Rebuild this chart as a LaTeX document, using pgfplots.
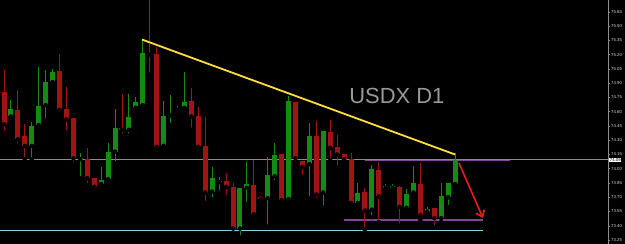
\documentclass[border=0pt]{standalone}
\usepackage{pgfplots}
\pgfplotsset{compat=1.18}
\usepackage{pgfplotstable}
\usepackage{fontspec}
\setmainfont{Liberation Sans}
\usetikzlibrary{arrows.meta}
\definecolor{bull}{RGB}{20,140,20}
\definecolor{bear}{RGB}{160,20,20}
\definecolor{trend}{RGB}{255,222,60}
\definecolor{purp}{RGB}{130,70,150}
\definecolor{cyanl}{RGB}{120,215,225}
\definecolor{pline}{RGB}{140,140,140}
\definecolor{arr}{RGB}{230,30,30}

\pgfplotstableread{
i o h l c
2 74.55 74.72 74.51 74.63
5 74.24 74.49 74.10 74.45
6 74.46 75.07 74.43 74.66
7 74.67 75.04 74.51 74.91
8 74.91 75.05 74.91 75.02
12 74.10 74.17 73.90 74.11
15 73.84 74.02 73.80 73.88
16 73.89 74.27 73.88 74.18
17 74.18 74.63 74.06 74.43
19 74.41 74.79 74.35 74.54
20 74.64 74.75 74.64 74.70
21 74.67 75.36 74.67 75.22
24 74.24 74.71 74.24 74.55
25 74.56 74.78 74.46 74.57
26 74.62 74.66 74.61 74.63
27 74.64 75.02 74.64 74.70
31 73.76 74.02 73.68 73.90
32 73.86 73.91 73.75 73.87
35 73.37 73.80 73.28 73.80
36 73.80 74.07 73.63 73.84
39 73.69 74.12 73.39 73.93
40 73.92 74.27 73.86 74.14
42 73.68 74.77 73.68 74.71
45 74.05 74.48 73.69 74.34
47 73.75 74.40 73.59 74.40
52 73.64 73.85 73.60 73.75
54 73.57 74.04 73.49 74.00
56 73.80 73.84 73.78 73.82
57 73.80 73.84 73.78 73.82
59 73.59 73.79 73.55 73.73
60 73.75 74.03 73.72 73.85
62 73.55 73.60 73.53 73.58
64 73.48 73.85 73.44 73.71
65 73.70 73.85 73.60 73.85
66 73.84 74.17 73.81 74.09
}\upcandles

\pgfplotstableread{
i o h l c
1 74.81 75.04 74.38 74.47
3 74.62 74.83 74.25 74.31
4 74.34 74.47 74.10 74.24
9 75.03 75.21 74.57 74.62
10 74.63 74.86 74.38 74.52
11 74.53 74.53 74.05 74.11
13 74.10 74.22 73.83 73.90
14 73.90 73.90 73.77 73.81
18 74.43 74.79 74.35 74.41
22 75.21 75.78 74.99 75.20
23 75.21 75.28 74.20 74.23
28 74.71 74.85 74.41 74.55
29 74.55 74.65 74.23 74.23
30 74.24 74.54 73.64 73.75
33 73.87 73.96 73.70 73.81
34 73.81 73.85 73.32 73.37
37 73.83 74.09 73.49 73.52
38 73.70 73.71 73.63 73.68
41 74.15 74.15 73.63 73.67
43 74.70 74.70 74.06 74.11
44 74.08 74.08 73.91 74.02
46 74.34 74.50 73.67 73.73
48 74.39 74.51 74.09 74.22
49 74.23 74.35 74.01 74.15
50 74.15 74.15 74.09 74.10
51 74.10 74.17 73.62 73.64
53 73.76 73.80 73.36 73.56
55 73.99 74.07 73.44 73.71
58 73.81 73.82 73.40 73.60
61 73.84 74.06 73.46 73.51
63 73.59 73.59 73.38 73.48
}\downcandles

\begin{document}
\begin{tikzpicture}
\useasboundingbox (0,0) rectangle (625bp,244bp);
\fill[black] (0,0) rectangle (625bp,244bp);
\begin{axis}[
  at={(0,0)}, anchor=south west,
  scale only axis, width=608bp, height=244bp,
  xmin=0.4236, xmax=88.03,
  ymin=73.208, ymax=75.776,
  clip=false,
  axis x line=none,
  axis y line*=right,
  y axis line style={draw=pline, line width=0.8bp},
  ytick={73.25,73.40,...,75.70},
  yticklabel pos=right,
  tick align=outside,
  major tick length=2bp,
  tick style={draw=pline, line width=0.5bp},
  yticklabel style={font=\fontsize{4.3}{5}\selectfont, text=white!85!black, inner sep=1pt, /pgf/number format/fixed, /pgf/number format/precision=2, /pgf/number format/fixed zerofill},
  /pgf/number format/assume math mode=true,
]
% reference horizontal lines
\addplot[pline, line width=0.8bp] coordinates {(0.4236,74.10) (88.03,74.10)};
\addplot[cyanl, line width=1.2bp] coordinates {(0.4236,73.35) (70.02,73.35)};
\addplot[purp, line width=1.2bp] coordinates {(53.02,74.09) (73.9,74.09)};
\addplot[purp, line width=1.2bp] coordinates {(49.99,73.46) (70.02,73.46)};

% wicks
\addplot[only marks, mark=none, error bars/.cd, y dir=plus, y explicit, error mark=none,
  error bar style={draw=bull, line width=0.9bp}]
  table[x=i, y=l, y error plus expr={\thisrow{h}-\thisrow{l}}] {\upcandles};
\addplot[only marks, mark=none, error bars/.cd, y dir=plus, y explicit, error mark=none,
  error bar style={draw=bear, line width=0.9bp}]
  table[x=i, y=l, y error plus expr={\thisrow{h}-\thisrow{l}}] {\downcandles};
% bodies
\addplot[only marks, mark=none, error bars/.cd, y dir=plus, y explicit, error mark=none,
  error bar style={draw=bull, line width=5bp}]
  table[x=i, y=o, y error plus expr={\thisrow{c}-\thisrow{o}}] {\upcandles};
\addplot[only marks, mark=none, error bars/.cd, y dir=plus, y explicit, error mark=none,
  error bar style={draw=bear, line width=5bp}]
  table[x=i, y=c, y error plus expr={\thisrow{o}-\thisrow{c}}] {\downcandles};

% trend line
\addplot[trend, line width=1.8bp] coordinates {(20.88,75.36) (65.99,74.15)};
% arrow
\addplot[arr, line width=1.6bp, -{Straight Barb[length=6bp,width=9bp]}] coordinates {(66.56,74.06) (70.02,73.48)};

\node[text=white!60!black, font=\fontsize{22}{24}\selectfont] at (axis cs:57.6,74.77) {USDX D1};
\node[fill=white, text=black, font=\fontsize{4.3}{5}\selectfont, inner sep=0.6pt, anchor=west] at (axis cs:88.2,74.09) {74.09};
\end{axis}
\end{tikzpicture}
\end{document}
